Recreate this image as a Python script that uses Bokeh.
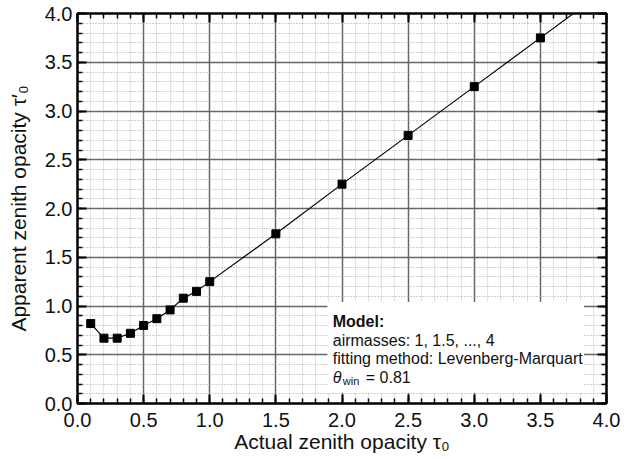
from bokeh.plotting import figure
from bokeh.models import (LinearAxis, SingleIntervalTicker, Range1d, Label,
                          PrintfTickFormatter)
from bokeh.embed import file_html
from bokeh.resources import INLINE

# Data
tau0 = [0.1, 0.2, 0.3, 0.4, 0.5, 0.6, 0.7, 0.8, 0.9, 1.0, 1.5, 2.0, 2.5, 3.0, 3.5]
tau_app = [0.82, 0.67, 0.67, 0.72, 0.80, 0.87, 0.96, 1.08, 1.15, 1.25,
           1.74, 2.25, 2.75, 3.25, 3.75]
# model curve continues beyond the last sample
line_x = tau0 + [4.0]
line_y = tau_app + [4.25]

axis_min, axis_max = 0.0, 4.0
major_step = 0.5

box_left, box_right, box_bottom, box_top = 1.89, 3.83, 0.11, 1.04
text_x = 1.93
text_lines_y = [0.841, 0.646, 0.462, 0.267]

FONT = "Liberation Sans"

p = figure(width=627, height=459,
           x_range=Range1d(axis_min, axis_max), y_range=Range1d(axis_min, axis_max),
           output_backend="svg", toolbar_location=None,
           min_border_left=77, min_border_right=21, min_border_top=13,
           min_border_bottom=56)
p.background_fill_color = "white"
p.border_fill_color = "white"
p.outline_line_color = "black"
p.outline_line_width = 2

p.add_layout(LinearAxis(), "above")
p.add_layout(LinearAxis(), "right")

xt = SingleIntervalTicker(interval=major_step, num_minor_ticks=5)
yt = SingleIntervalTicker(interval=major_step, num_minor_ticks=5)
for ax in p.above + p.below:
    ax.ticker = xt
for ax in p.left + p.right:
    ax.ticker = yt
p.xgrid.ticker = xt
p.ygrid.ticker = yt

for ax in p.axis:
    ax.major_tick_in = 9
    ax.major_tick_out = 0
    ax.minor_tick_in = 5
    ax.minor_tick_out = 0
    ax.major_tick_line_width = 2
    ax.minor_tick_line_width = 1.5
    ax.major_tick_line_color = "black"
    ax.minor_tick_line_color = "black"
    ax.axis_line_width = 2
    ax.axis_line_color = "black"
    ax.formatter = PrintfTickFormatter(format="%.1f")
    ax.major_label_text_font = FONT
    ax.major_label_text_font_size = "20px"
    ax.major_label_text_color = "#111111"
    ax.axis_label_text_font = FONT
    ax.axis_label_text_font_size = "21px"
    ax.axis_label_text_font_style = "normal"
    ax.axis_label_text_color = "#111111"

for ax in p.above + p.right:
    ax.major_label_text_font_size = "1px"
    ax.major_label_text_color = None
    ax.major_label_standoff = 0
    ax.axis_label = None

xa = p.below[0]
xa.axis_label = "Actual zenith opacity τ₀"
xa.major_label_standoff = 9
xa.axis_label_standoff = 0

ya = p.left[0]
ya.axis_label = "Apparent zenith opacity τ′₀"
ya.major_label_standoff = 5
ya.axis_label_standoff = 12

# grids
p.xgrid.grid_line_color = "#666666"
p.xgrid.grid_line_width = 1.5
p.xgrid.minor_grid_line_color = "#e2e2e2"
p.xgrid.minor_grid_line_width = 1
p.ygrid.grid_line_color = "#666666"
p.ygrid.grid_line_width = 1.5
p.ygrid.minor_grid_line_color = "#a0a0a0"
p.ygrid.minor_grid_line_width = 1
p.ygrid.minor_grid_line_dash = "1 2"

# data line and markers
p.line(line_x, line_y, line_color="black", line_width=1.2)
p.scatter(tau0, tau_app, marker="square", size=8, fill_color="black",
          line_color="black")

# white annotation box
p.quad(left=[box_left], right=[box_right], bottom=[box_bottom], top=[box_top],
       fill_color="white", line_color=None)

common = dict(text_font=FONT, text_font_size="16px", text_color="#111111",
              text_baseline="alphabetic")
p.add_layout(Label(x=text_x, y=text_lines_y[0], text="Model:",
                   text_font_style="bold", **common))
p.add_layout(Label(x=text_x, y=text_lines_y[1],
                   text="airmasses: 1, 1.5, ..., 4", **common))
p.add_layout(Label(x=text_x, y=text_lines_y[2],
                   text="fitting method: Levenberg-Marquart", **common))
p.add_layout(Label(x=text_x, y=text_lines_y[3], text="θ",
                   text_font_style="italic", **common))
p.add_layout(Label(x=text_x, y=text_lines_y[3], text="win", x_offset=10,
                   y_offset=-4, text_font=FONT, text_font_size="11px",
                   text_color="#111111", text_baseline="alphabetic"))
p.add_layout(Label(x=text_x, y=text_lines_y[3], text="= 0.81", x_offset=33,
                   **common))

open("out.html", "w").write(file_html(p, INLINE))
